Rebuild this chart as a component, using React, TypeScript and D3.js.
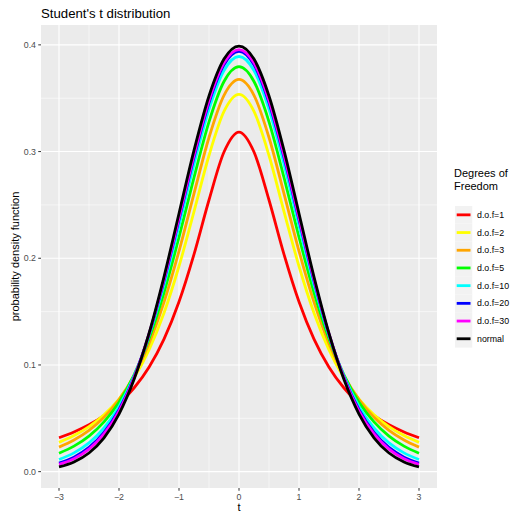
import * as d3 from 'd3';

// t values sampled every 0.25 from -3 to 3
const tValues = [-3, -2.75, -2.5, -2.25, -2, -1.75, -1.5, -1.25, -1, -0.75, -0.5, -0.25, 0,
  0.25, 0.5, 0.75, 1, 1.25, 1.5, 1.75, 2, 2.25, 2.5, 2.75, 3];

const dof1 = [0.0318, 0.0372, 0.0439, 0.0525, 0.0637, 0.0784, 0.0979, 0.1242, 0.1592, 0.2037, 0.2546, 0.2996, 0.3183,
  0.2996, 0.2546, 0.2037, 0.1592, 0.1242, 0.0979, 0.0784, 0.0637, 0.0525, 0.0439, 0.0372, 0.0318];
const dof2 = [0.0274, 0.0338, 0.0422, 0.0533, 0.0680, 0.0878, 0.1141, 0.1487, 0.1925, 0.2438, 0.2963, 0.3376, 0.3536,
  0.3376, 0.2963, 0.2438, 0.1925, 0.1487, 0.1141, 0.0878, 0.0680, 0.0533, 0.0422, 0.0338, 0.0274];
const dof3 = [0.0230, 0.0297, 0.0387, 0.0509, 0.0675, 0.0900, 0.1200, 0.1589, 0.2067, 0.2606, 0.3132, 0.3527, 0.3676,
  0.3527, 0.3132, 0.2606, 0.2067, 0.1589, 0.1200, 0.0900, 0.0675, 0.0509, 0.0387, 0.0297, 0.0230];
const dof5 = [0.0173, 0.0239, 0.0333, 0.0466, 0.0651, 0.0905, 0.1245, 0.1679, 0.2197, 0.2757, 0.3279, 0.3657, 0.3796,
  0.3657, 0.3279, 0.2757, 0.2197, 0.1679, 0.1245, 0.0905, 0.0651, 0.0466, 0.0333, 0.0239, 0.0173];
const dof10 = [0.0114, 0.0176, 0.0269, 0.0409, 0.0611, 0.0895, 0.1274, 0.1751, 0.2304, 0.2880, 0.3397, 0.3760, 0.3891,
  0.3760, 0.3397, 0.2880, 0.2304, 0.1751, 0.1274, 0.0895, 0.0611, 0.0409, 0.0269, 0.0176, 0.0114];
const dof20 = [0.0080, 0.0136, 0.0227, 0.0369, 0.0581, 0.0883, 0.1286, 0.1788, 0.2361, 0.2945, 0.3458, 0.3813, 0.3940,
  0.3813, 0.3458, 0.2945, 0.2361, 0.1788, 0.1286, 0.0883, 0.0581, 0.0369, 0.0227, 0.0136, 0.0080];
const dof30 = [0.0068, 0.0121, 0.0211, 0.0353, 0.0568, 0.0877, 0.1290, 0.1801, 0.2380, 0.2967, 0.3479, 0.3831, 0.3956,
  0.3831, 0.3479, 0.2967, 0.2380, 0.1801, 0.1290, 0.0877, 0.0568, 0.0353, 0.0211, 0.0121, 0.0068];
const normal = [0.0044, 0.0091, 0.0175, 0.0317, 0.0540, 0.0863, 0.1295, 0.1826, 0.2420, 0.3011, 0.3521, 0.3867, 0.3989,
  0.3867, 0.3521, 0.3011, 0.2420, 0.1826, 0.1295, 0.0863, 0.0540, 0.0317, 0.0175, 0.0091, 0.0044];

const seriesLabels = ['d.o.f=1', 'd.o.f=2', 'd.o.f=3', 'd.o.f=5', 'd.o.f=10', 'd.o.f=20', 'd.o.f=30', 'normal'];
const seriesColors = ['#FF0000', '#FFFF00', '#FFA500', '#00FF00', '#00FFFF', '#0000FF', '#FF00FF', '#000000'];
const seriesValues = [dof1, dof2, dof3, dof5, dof10, dof20, dof30, normal];

const xTicks = [-3, -2, -1, 0, 1, 2, 3];
const xMinor = [-2.5, -1.5, -0.5, 0.5, 1.5, 2.5];
const yTicks = [0, 0.1, 0.2, 0.3, 0.4];
const yMinor = [0.05, 0.15, 0.25, 0.35];

export default function App() {
  const W = 511, H = 513;
  const panel = { left: 41, right: 437, top: 25, bottom: 488 };

  const x = d3.scaleLinear().domain([-3.3, 3.3]).range([panel.left, panel.right]);
  const yMax = d3.max(seriesValues, s => d3.max(s)) as number;
  const yMin = d3.min(seriesValues, s => d3.min(s)) as number;
  const pad = (yMax - yMin) * 0.05;
  const y = d3.scaleLinear().domain([yMin - pad, yMax + pad]).range([panel.bottom, panel.top]);

  const line = d3.line<number>()
    .x((_, i) => x(tValues[i]))
    .y(d => y(d))
    .curve(d3.curveMonotoneX);

  const font = '"Liberation Sans", Arial, Helvetica, sans-serif';
  const legendX = 455;
  const legendY0 = 206;
  const keySize = 17.7;

  return (
    <svg width={W} height={H} style={{ position: 'absolute', left: 0, top: 0 }} fontFamily={font}>
      <rect width={W} height={H} fill="#FFFFFF" />
      <rect x={panel.left} y={panel.top} width={panel.right - panel.left} height={panel.bottom - panel.top} fill="#EBEBEB" />
      {xMinor.map(v => (
        <line key={'xm' + v} x1={x(v)} x2={x(v)} y1={panel.top} y2={panel.bottom} stroke="#FFFFFF" strokeWidth={0.55} />
      ))}
      {yMinor.map(v => (
        <line key={'ym' + v} x1={panel.left} x2={panel.right} y1={y(v)} y2={y(v)} stroke="#FFFFFF" strokeWidth={0.55} />
      ))}
      {xTicks.map(v => (
        <line key={'xM' + v} x1={x(v)} x2={x(v)} y1={panel.top} y2={panel.bottom} stroke="#FFFFFF" strokeWidth={1.1} />
      ))}
      {yTicks.map(v => (
        <line key={'yM' + v} x1={panel.left} x2={panel.right} y1={y(v)} y2={y(v)} stroke="#FFFFFF" strokeWidth={1.1} />
      ))}

      <g clipPath="url(#clip)">
        <defs>
          <clipPath id="clip">
            <rect x={panel.left} y={panel.top} width={panel.right - panel.left} height={panel.bottom - panel.top} />
          </clipPath>
        </defs>
        {seriesValues.map((s, i) => (
          <path key={seriesLabels[i]} d={line(s) ?? ''} fill="none" stroke={seriesColors[i]} strokeWidth={2.8} />
        ))}
      </g>

      {/* axes */}
      {xTicks.map(v => (
        <g key={'xt' + v}>
          <line x1={x(v)} x2={x(v)} y1={panel.bottom} y2={panel.bottom + 2.75} stroke="#333333" strokeWidth={1} />
          <text x={x(v)} y={panel.bottom + 12} fontSize={8.8} fill="#4D4D4D" textAnchor="middle">
            {v < 0 ? '\u2212' + Math.abs(v) : String(v)}
          </text>
        </g>
      ))}
      {yTicks.map(v => (
        <g key={'yt' + v}>
          <line x1={panel.left - 2.75} x2={panel.left} y1={y(v)} y2={y(v)} stroke="#333333" strokeWidth={1} />
          <text x={panel.left - 5} y={y(v) + 3.1} fontSize={8.8} fill="#4D4D4D" textAnchor="end">
            {d3.format('.1f')(v)}
          </text>
        </g>
      ))}

      <text x={(panel.left + panel.right) / 2} y={511} fontSize={11} textAnchor="middle" fill="#000">t</text>
      <text transform={`translate(19,${(panel.top + panel.bottom) / 2}) rotate(-90)`} fontSize={11}
        textAnchor="middle" fill="#000">probability density function</text>
      <text x={panel.left} y={18} fontSize={13.2} fill="#000">Student's t distribution</text>

      {/* legend */}
      <text x={454} y={177} fontSize={11} fill="#000">Degrees of</text>
      <text x={454} y={190} fontSize={11} fill="#000">Freedom</text>
      {seriesLabels.map((lab, i) => {
        const cy = legendY0 + i * keySize + keySize / 2;
        return (
          <g key={'lg' + lab}>
            <rect x={legendX} y={cy - keySize / 2} width={17.28} height={keySize} fill="#F2F2F2" />
            <line x1={legendX + 1.7} x2={legendX + 15.5} y1={cy} y2={cy} stroke={seriesColors[i]} strokeWidth={2.8} />
            <text x={477} y={cy + 3.1} fontSize={8.8} fill="#000">{lab}</text>
          </g>
        );
      })}
    </svg>
  );
}
